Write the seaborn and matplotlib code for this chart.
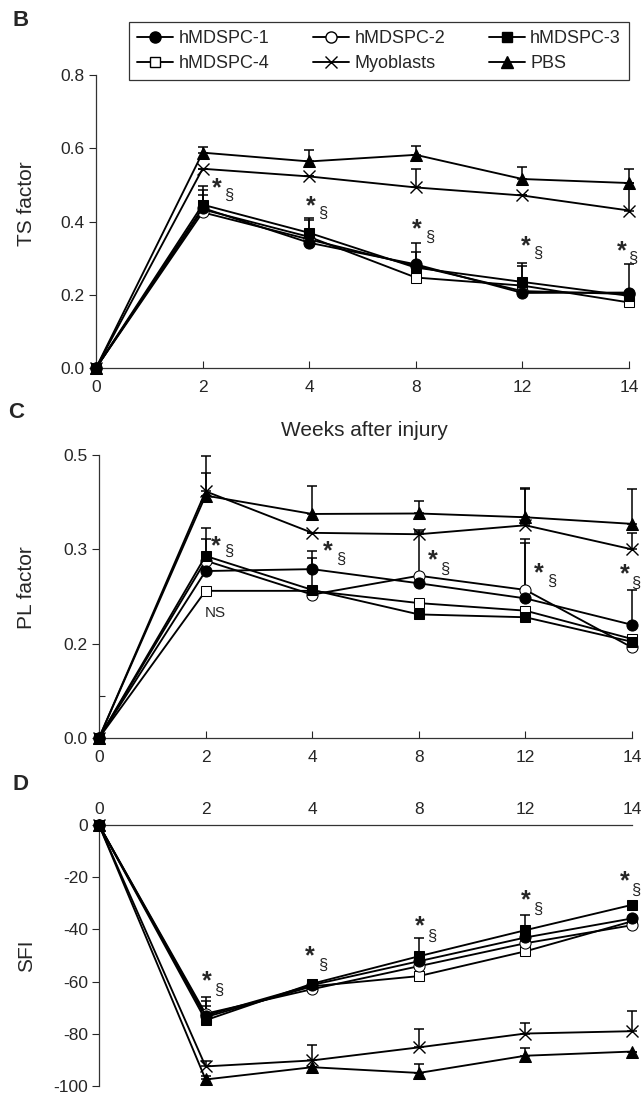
import numpy as np
import pandas as pd
import seaborn as sns
import matplotlib.pyplot as plt
from matplotlib.lines import Line2D

weeks = [0, 2, 4, 8, 12, 14]
groups = ['hMDSPC-1', 'hMDSPC-2', 'hMDSPC-3', 'hMDSPC-4', 'Myoblasts', 'PBS']

# panel B - TS factor (mean, upper error)
ts_vals = {
    'hMDSPC-1': [0, 0.437, 0.342, 0.283, 0.205, 0.206],
    'hMDSPC-2': [0, 0.425, 0.351, 0.279, 0.210, 0.202],
    'hMDSPC-3': [0, 0.446, 0.369, 0.274, 0.235, 0.197],
    'hMDSPC-4': [0, 0.433, 0.358, 0.247, 0.225, 0.179],
    'Myoblasts': [0, 0.544, 0.523, 0.493, 0.471, 0.430],
    'PBS': [0, 0.588, 0.564, 0.582, 0.516, 0.505],
}
ts_err = {
    'hMDSPC-1': [0, 0.050, 0.020, 0.057, 0.000, 0.079],
    'hMDSPC-2': [0, 0.030, 0.054, 0.039, 0.000, 0.000],
    'hMDSPC-3': [0, 0.050, 0.041, 0.000, 0.053, 0.000],
    'hMDSPC-4': [0, 0.040, 0.000, 0.000, 0.054, 0.000],
    'Myoblasts': [0, 0.000, 0.000, 0.050, 0.000, 0.075],
    'PBS': [0, 0.016, 0.031, 0.024, 0.032, 0.038],
}

# panel C - PL factor
pl_vals = {
    'hMDSPC-1': [0, 0.277, 0.279, 0.264, 0.248, 0.220],
    'hMDSPC-2': [0, 0.288, 0.252, 0.272, 0.257, 0.192],
    'hMDSPC-3': [0, 0.293, 0.257, 0.231, 0.228, 0.202],
    'hMDSPC-4': [0, 0.256, 0.256, 0.243, 0.235, 0.205],
    'Myoblasts': [0, 0.423, 0.335, 0.332, 0.351, 0.300],
    'PBS': [0, 0.414, 0.375, 0.376, 0.368, 0.354],
}
pl_err = {
    'hMDSPC-1': [0, 0.000, 0.019, 0.000, 0.066, 0.037],
    'hMDSPC-2': [0, 0.033, 0.000, 0.065, 0.064, 0.000],
    'hMDSPC-3': [0, 0.053, 0.034, 0.000, 0.000, 0.000],
    'hMDSPC-4': [0, 0.000, 0.000, 0.000, 0.000, 0.000],
    'Myoblasts': [0, 0.038, 0.000, 0.010, 0.077, 0.035],
    'PBS': [0, 0.084, 0.060, 0.026, 0.062, 0.074],
}

# panel D - SFI
sfi_vals = {
    'hMDSPC-1': [0, -73.0, -61.3, -52.2, -43.1, -35.8],
    'hMDSPC-2': [0, -72.3, -62.9, -54.1, -45.3, -38.4],
    'hMDSPC-3': [0, -74.8, -60.8, -50.3, -40.3, -30.6],
    'hMDSPC-4': [0, -73.6, -61.8, -57.9, -48.4, -36.9],
    'Myoblasts': [0, -92.5, -90.2, -85.2, -79.9, -79.0],
    'PBS': [0, -97.5, -92.8, -95.0, -88.4, -86.8],
}
sfi_err = {
    'hMDSPC-1': [0, 7.0, 0, 0, 0, 0],
    'hMDSPC-2': [0, 5.0, 0, 0, 0, 0],
    'hMDSPC-3': [0, 0, 0, 7.0, 5.7, 0],
    'hMDSPC-4': [0, 4.4, 0, 0, 0, 0],
    'Myoblasts': [0, 2.0, 6.0, 7.0, 4.0, 7.7],
    'PBS': [0, 1.5, 0, 3.4, 3.0, 0],
}

# significance marks (* and section sign), x in category units
ts_star_x = [1.13, 2.01, 3.01, 4.03, 4.93]
ts_star_y = [0.491, 0.442, 0.378, 0.333, 0.319]
pl_star_x = [1.10, 2.15, 3.13, 4.13, 4.93]
pl_star_y = [0.307, 0.298, 0.288, 0.275, 0.273]
sfi_star_x = [1.01, 1.98, 3.01, 4.00, 4.93]
sfi_star_y = [-59.7, -50.3, -39.0, -28.9, -21.4]

styles = {
    'hMDSPC-1': dict(marker='o', markerfacecolor='black', markersize=8),
    'hMDSPC-2': dict(marker='o', markerfacecolor='white', markersize=8),
    'hMDSPC-3': dict(marker='s', markerfacecolor='black', markersize=7),
    'hMDSPC-4': dict(marker='s', markerfacecolor='white', markersize=7),
    'Myoblasts': dict(marker='x', markerfacecolor='black', markersize=9, markeredgewidth=1),
    'PBS': dict(marker='^', markerfacecolor='black', markersize=8),
}
draw_order = ['PBS', 'Myoblasts', 'hMDSPC-4', 'hMDSPC-2', 'hMDSPC-1', 'hMDSPC-3']


def long_df(vals, errs):
    rows = []
    for g in groups:
        for i, w in enumerate(weeks):
            rows.append({'group': g, 'pos': i, 'week': w, 'value': vals[g][i], 'err': errs[g][i]})
    return pd.DataFrame(rows)


def draw_panel(ax, df):
    for g in draw_order:
        sub = df[df.group == g]
        ax.errorbar(sub.pos, sub.value, yerr=[np.zeros(len(sub)), sub.err], fmt='none',
                    ecolor='black', elinewidth=1.1, capsize=3.5, capthick=1.1, zorder=2, clip_on=False)
        sns.lineplot(data=sub, x='pos', y='value', ax=ax, color='black', linewidth=1.35,
                     markeredgecolor='black', zorder=3, clip_on=False, **styles[g])
    ax.set_xlim(0, 5)
    ax.set_xticks(range(len(weeks)))
    ax.set_xticklabels([str(w) for w in weeks])
    ax.set_xlabel('')
    ax.tick_params(axis='x', direction='in', length=5, width=0.8, pad=9, labelsize=12.5)
    ax.tick_params(axis='y', direction='out', length=5, width=0.8, pad=3, labelsize=12.5)
    for s in ax.spines.values():
        s.set_color('#333333')
        s.set_linewidth(0.9)


def stars(ax, xs, ys, dy):
    for x, y in zip(xs, ys):
        ax.text(x, y, '*', ha='center', va='center', fontsize=18, fontweight='bold')
        # keep the last section sign inside the figure edge
        ax.text(min(x + 0.115, 5.035), y - dy, '§', ha='center', va='center', fontsize=12)


sns.set_style('ticks')
plt.rcParams['font.family'] = ['Liberation Sans', 'DejaVu Sans']
plt.rcParams['axes.unicode_minus'] = False

fig = plt.figure(figsize=(6.44, 10.96), dpi=100)
W, H = 644, 1096

# B
axB = fig.add_axes([96 / W, 1 - 368 / H, 533 / W, 293 / H])
draw_panel(axB, long_df(ts_vals, ts_err))
axB.set_ylim(0, 0.8)
axB.set_yticks([0, 0.2, 0.4, 0.6, 0.8])
axB.set_yticklabels(['0.0', '0.2', '0.4', '0.6', '0.8'])
axB.set_ylabel('TS factor', fontsize=15)
axB.yaxis.set_label_coords(-0.112, 0.56)
sns.despine(ax=axB)
stars(axB, ts_star_x, ts_star_y, 0.02)

# C - uneven tick spacing on the y axis
pl_ticks = [0.0, 0.2, 0.3, 0.5]
pl_pos = [0, 1, 2, 3]


def pl_fwd(v):
    return np.interp(v, pl_ticks, pl_pos)


def pl_inv(d):
    return np.interp(d, pl_pos, pl_ticks)


axC = fig.add_axes([99 / W, 1 - 738 / H, 533 / W, 283 / H])
axC.set_yscale('function', functions=(pl_fwd, pl_inv))
draw_panel(axC, long_df(pl_vals, pl_err))
axC.set_ylim(0, 0.5)
axC.set_yticks(pl_ticks)
axC.set_yticklabels(['0.0', '0.2', '0.3', '0.5'])
axC.set_yticks([0.089], minor=True)
axC.tick_params(axis='y', which='minor', direction='in', length=4, width=0.8)
axC.set_ylabel('PL factor', fontsize=15)
axC.yaxis.set_label_coords(-0.118, 0.53)
sns.despine(ax=axC)
stars(axC, pl_star_x, pl_star_y, 0.009)
axC.text(1.09, 0.233, 'NS', ha='center', va='center', fontsize=11)

# D
axD = fig.add_axes([99 / W, 1 - 1086 / H, 533 / W, 261 / H])
draw_panel(axD, long_df(sfi_vals, sfi_err))
axD.set_ylim(-100, 0)
axD.set_yticks([0, -20, -40, -60, -80, -100])
axD.xaxis.tick_top()
axD.tick_params(axis='x', direction='in', length=5, pad=6)
axD.set_ylabel('SFI', fontsize=15)
axD.yaxis.set_label_coords(-0.118, 0.5)
sns.despine(ax=axD, top=False, bottom=True)
stars(axD, sfi_star_x, sfi_star_y, 3.5)

fig.text(364 / W, 1 - 430 / H, 'Weeks after injury', ha='center', va='center', fontsize=15)
fig.text(12 / W, 1 - 21 / H, 'B', fontsize=16, fontweight='bold', va='center')
fig.text(8 / W, 1 - 412 / H, 'C', fontsize=16, fontweight='bold', va='center')
fig.text(12 / W, 1 - 784 / H, 'D', fontsize=16, fontweight='bold', va='center')

handles = [Line2D([0], [0], color='black', linewidth=1.35, markeredgecolor='black', **styles[g]) for g in groups]
order = [0, 3, 1, 4, 2, 5]
leg = fig.legend([handles[i] for i in order], [groups[i] for i in order], ncol=3, loc='upper left',
                 bbox_to_anchor=(120 / W, 1 - 83 / H, 518 / W, 70 / H), mode='expand',
                 frameon=True, fancybox=False, edgecolor='black', fontsize=13,
                 handlelength=2.0, handletextpad=0.3, borderpad=0.45, labelspacing=0.45, numpoints=1)
leg.get_frame().set_linewidth(0.9)

fig.savefig('out.png', dpi=100)
